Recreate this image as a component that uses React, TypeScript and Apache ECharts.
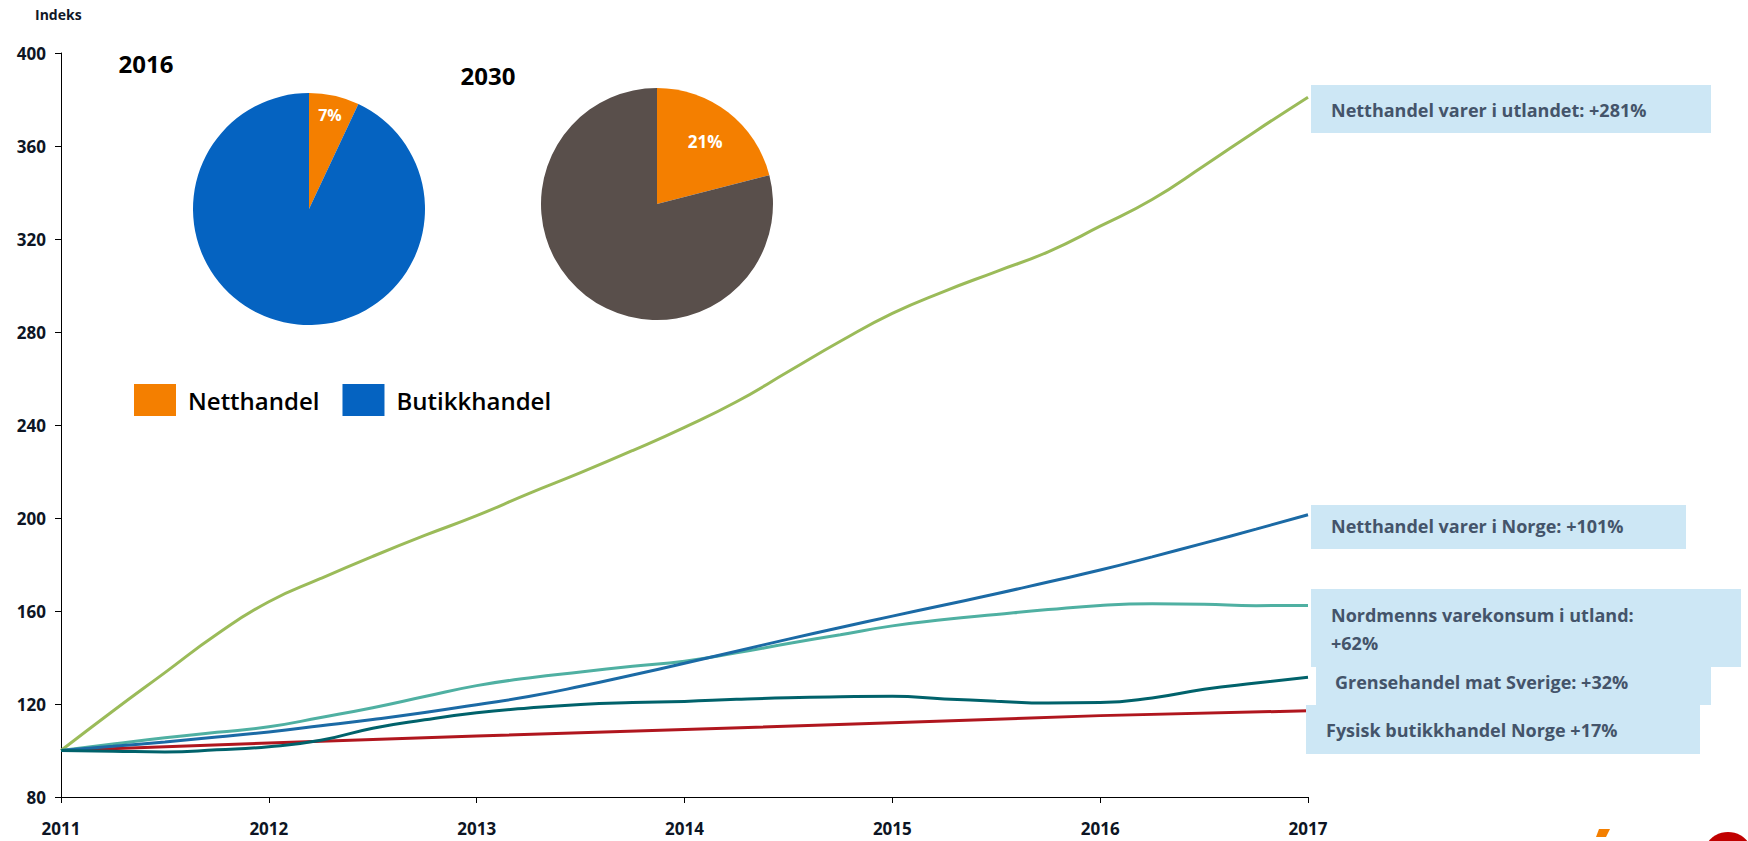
import React, { useEffect, useRef } from "react";
import * as echarts from "echarts";

// ---- data ----
const quarters = [
  2011, 2011.25, 2011.5, 2011.75, 2012, 2012.25, 2012.5, 2012.75, 2013, 2013.25, 2013.5, 2013.75,
  2014, 2014.25, 2014.5, 2014.75, 2015, 2015.25, 2015.5, 2015.75, 2016, 2016.25, 2016.5, 2016.75, 2017,
];
const netthandelUtland = [
  100, 117, 133.5, 150, 164, 174, 183.5, 192.5, 201, 210.5, 219.5, 229,
  239, 250, 263, 276, 288, 297.5, 306, 314.5, 325.5, 337, 351.5, 366.5, 381,
];
const netthandelNorge = [
  100, 101.8, 103.7, 105.8, 108, 110.6, 113.3, 116.3, 119.7, 123.2, 127.6, 132.5,
  137.5, 142.7, 147.9, 152.9, 157.8, 162.6, 167.4, 172.5, 177.6, 183.3, 189.2, 195.2, 201.4,
];
const nordmennsUtland = [
  100, 102.8, 105.5, 107.8, 110.2, 114.2, 118.4, 123.2, 127.9, 131.2, 133.8, 136.2,
  138.4, 142, 146, 149.8, 153.6, 156.3, 158.5, 160.6, 162.4, 163.1, 162.9, 162.3, 162.4,
];
const grensehandel = [
  100, 99.7, 99.4, 100.3, 101.6, 104.4, 109.6, 113.2, 116.2, 118.3, 119.8, 120.6,
  121.1, 122, 122.7, 123.1, 123.3, 122.2, 121.2, 120.4, 120.6, 122.6, 126.3, 129, 131.5,
];
const years = [2011, 2012, 2013, 2014, 2015, 2016, 2017];
const fysiskButikk = [100, 103.2, 106.2, 109, 111.9, 115, 117.1];

const pieNames = ["Netthandel", "Butikkhandel"];
const pie2016 = [7, 93];
const pie2030 = [21, 79];

const seriesNames = [
  "Netthandel varer i utlandet: +281%",
  "Netthandel varer i Norge: +101%",
  "Nordmenns varekonsum i utland:\n+62%",
  "Grensehandel mat Sverige: +32%",
  "Fysisk butikkhandel Norge +17%",
];

const FONT = "'Open Sans', 'Noto Sans', sans-serif";
const ORANGE = "#F47F00";
const BLUE = "#0563C1";
const GRAY = "#594F4B";

function pair(xs: number[], ys: number[]) {
  return xs.map((x, i) => [x, ys[i]]);
}

export default function App() {
  const ref = useRef<HTMLDivElement>(null);
  useEffect(() => {
    if (!ref.current) return;
    const chart = echarts.init(ref.current, null, { renderer: "svg" });
    const lineBase = (name: string, color: string, data: number[][], smooth = true) => ({
      type: "line",
      name,
      data,
      smooth,
      showSymbol: false,
      symbol: "none",
      lineStyle: { color, width: 3 },
      itemStyle: { color },
      silent: true,
      z: 3,
    });
    const pieMain = (center: number[], values: number[], colors: string[]) => ({
      type: "pie",
      center,
      radius: 116,
      startAngle: 90,
      clockwise: true,
      silent: true,
      label: { show: false },
      labelLine: { show: false },
      itemStyle: { borderWidth: 0 },
      data: values.map((v, i) => ({ name: pieNames[i], value: v, itemStyle: { color: colors[i] } })),
    });
    const pieLabel = (center: number[], values: number[], inner: number, fontSize: number) => ({
      type: "pie",
      center,
      radius: [inner, 116],
      startAngle: 90,
      clockwise: true,
      silent: true,
      labelLine: { show: false },
      itemStyle: { color: "rgba(0,0,0,0)", borderWidth: 0 },
      z: 4,
      data: values.map((v, i) => ({
        name: pieNames[i],
        value: v,
        label: {
          show: i === 0,
          position: "inside",
          formatter: v + "%",
          color: "#ffffff",
          fontFamily: FONT,
          fontWeight: "bold",
          fontSize,
        },
      })),
    });

    const boxes = [
      { x: 1311, y: 85, w: 400, h: 48, ty: 110, tx: 1331, text: seriesNames[0] },
      { x: 1311, y: 505, w: 375, h: 44, ty: 526, tx: 1331, text: seriesNames[1] },
      { x: 1311, y: 589, w: 430, h: 78, ty: 629, tx: 1331, text: seriesNames[2] },
      { x: 1316, y: 667, w: 395, h: 38, ty: 682, tx: 1335, text: seriesNames[3] },
      { x: 1306, y: 705, w: 394, h: 49, ty: 730, tx: 1326, text: seriesNames[4] },
    ];

    const graphics: any[] = [];
    boxes.forEach((b) => {
      graphics.push({
        type: "rect",
        shape: { x: b.x, y: b.y, width: b.w, height: b.h },
        style: { fill: "#CDE7F5" },
        z: 10,
      });
    });
    boxes.forEach((b) => {
      graphics.push({
        type: "text",
        x: b.tx,
        y: b.ty,
        style: {
          text: b.text,
          fill: "#44546A",
          font: `bold 18px ${FONT}`,
          textVerticalAlign: "middle",
          lineHeight: 28,
        },
        z: 11,
      });
    });
    graphics.push(
      {
        type: "text",
        x: 35,
        y: 14,
        style: { text: "Indeks", fill: "#111827", font: `bold 14px ${FONT}`, textVerticalAlign: "middle" },
      },
      {
        type: "text",
        x: 146,
        y: 63,
        style: { text: "2016", fill: "#000", font: `bold 24px ${FONT}`, textAlign: "center", textVerticalAlign: "middle" },
      },
      {
        type: "text",
        x: 488,
        y: 75,
        style: { text: "2030", fill: "#000", font: `bold 24px ${FONT}`, textAlign: "center", textVerticalAlign: "middle" },
      },
      { type: "circle", shape: { cx: 1728, cy: 857, r: 25 }, style: { fill: "#C00000" } },
      { type: "polygon", shape: { points: [[1599, 829], [1610, 829], [1606, 837], [1596, 837]] }, style: { fill: ORANGE } }
    );

    const option: any = {
      animation: false,
      backgroundColor: "#ffffff",
      textStyle: { fontFamily: FONT },
      grid: { left: 61, right: 440, top: 53, bottom: 44, containLabel: false },
      legend: {
        left: 134,
        top: 384,
        padding: 0,
        itemWidth: 42,
        itemHeight: 32,
        itemGap: 23,
        icon: "rect",
        selectedMode: false,
        data: [
          { name: "Netthandel", itemStyle: { color: ORANGE } },
          { name: "Butikkhandel", itemStyle: { color: BLUE } },
        ],
        textStyle: { fontFamily: FONT, fontSize: 24, fontWeight: 600, color: "#000", padding: [0, 0, 0, 7] },
      },
      xAxis: {
        type: "value",
        min: 2011,
        max: 2017,
        interval: 1,
        splitLine: { show: false },
        axisLine: { show: true, lineStyle: { color: "#000", width: 1 } },
        axisTick: { show: true, inside: false, length: 6, lineStyle: { color: "#000" } },
        axisLabel: {
          formatter: (v: number) => String(v),
          margin: 23,
          color: "#0d1524",
          fontWeight: "bold",
          fontSize: 17,
          fontFamily: FONT,
        },
      },
      yAxis: {
        type: "value",
        min: 80,
        max: 400,
        interval: 40,
        splitLine: { show: false },
        axisLine: { show: true, lineStyle: { color: "#000", width: 1 } },
        axisTick: { show: true, inside: false, length: 6, lineStyle: { color: "#000" } },
        axisLabel: {
          margin: 15,
          color: "#0d1524",
          fontWeight: "bold",
          fontSize: 17,
          fontFamily: FONT,
        },
      },
      series: [
        pieMain([309, 209], pie2016, [ORANGE, BLUE]),
        pieMain([657, 204], pie2030, [ORANGE, GRAY]),
        pieLabel([309, 209], pie2016, 70, 16),
        pieLabel([657, 204], pie2030, 35, 17),
        lineBase(seriesNames[4], "#B0161E", pair(years, fysiskButikk), false),
        lineBase(seriesNames[0], "#9BBB59", pair(quarters, netthandelUtland)),
        lineBase(seriesNames[2], "#4FB0A2", pair(quarters, nordmennsUtland)),
        lineBase(seriesNames[1], "#1B6AA5", pair(quarters, netthandelNorge)),
        lineBase(seriesNames[3], "#00626B", pair(quarters, grensehandel)),
      ],
      graphic: graphics,
    };
    chart.setOption(option);
    return () => chart.dispose();
  }, []);
  return (
    <div
      ref={ref}
      style={{ position: "fixed", left: 0, top: 0, width: 1748, height: 841, background: "#fff" }}
    />
  );
}
